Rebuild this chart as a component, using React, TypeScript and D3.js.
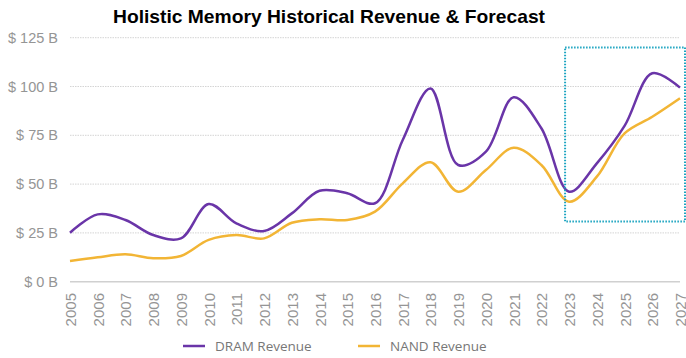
import React from "react";
import * as d3 from "d3";

const years = d3.range(2005, 2028).map(String);
const dram = [25.1, 34.5, 31.6, 23.9, 22.2, 39.8, 29.9, 26, 35, 46.6, 45.3, 40.2, 72.6, 99, 59.8, 66.6, 94.5, 78.6, 46.1, 60.6, 79.8, 106.8, 99.4];
const nand = [10.6, 12.5, 14, 12, 13.2, 21.4, 23.9, 22.2, 30.2, 32, 31.6, 35.9, 50.4, 61.2, 46.1, 57.2, 68.6, 59.8, 41, 53.8, 76, 84.5, 94];
const yTicks = [0, 25, 50, 75, 100, 125];
const seriesNames = ["DRAM Revenue", "NAND Revenue"];
const colors = ["#6A35A8", "#F2B535"];

export default function App() {
  const W = 686, H = 358;
  const x = d3.scalePoint<string>().domain(years).range([70, 680]);
  const y = d3.scaleLinear().domain([0, 125]).range([281.7, 37.7]);
  const line = d3
    .line<number>()
    .x((_, i) => x(years[i]) as number)
    .y((d) => y(d))
    .curve(d3.curveCatmullRom.alpha(0.5));
  const font = "Liberation Sans, Arial, sans-serif";
  return (
    <svg width={W} height={H} style={{ position: "absolute", left: 0, top: 0, background: "#fff" }} fontFamily={font}>
      <text x={329} y={23} textAnchor="middle" fontSize={19} fontWeight="bold" fill="#000" textLength={432} lengthAdjust="spacingAndGlyphs">
        Holistic Memory Historical Revenue &amp; Forecast
      </text>
      {yTicks.map((t) => (
        <g key={t}>
          <line
            x1={70}
            x2={680}
            y1={y(t)}
            y2={y(t)}
            stroke={t === 0 ? "#d0d0d0" : "#d4d4d4"}
            strokeWidth={t === 0 ? 1.5 : 1}
            strokeDasharray={t === 0 ? undefined : "1.5 1"}
          />
          <text x={58} y={y(t) + 5} textAnchor="end" fontSize={14.5} fill="#959595">
            {`$ ${t} B`}
          </text>
        </g>
      ))}
      {years.map((yr) => (
        <text
          key={yr}
          transform={`translate(${(x(yr) as number) + 6},${293}) rotate(-90)`}
          textAnchor="end"
          fontSize={15}
          fill="#959595"
        >
          {yr}
        </text>
      ))}
      {[dram, nand].map((s, i) => (
        <path key={i} d={line(s) || ""} fill="none" stroke={colors[i]} strokeWidth={2.5} strokeLinejoin="round" />
      ))}
      <rect
        x={x("2023") as number - 4}
        y={47.5}
        width={W - (x("2023") as number - 4) - 1}
        height={174}
        fill="none"
        stroke="#1AA3C0"
        strokeWidth={2}
        strokeDasharray="1.5 1.5"
      />
      {seriesNames.map((n, i) => {
        const lx = i === 0 ? 183 : 358;
        return (
          <g key={n}>
            <line x1={lx} x2={lx + 22} y1={346} y2={346} stroke={colors[i]} strokeWidth={2.5} />
            <text x={lx + 32} y={350.5} fontSize={13.5} fill="#777" fontFamily="Open Sans, sans-serif">
              {n}
            </text>
          </g>
        );
      })}
    </svg>
  );
}
